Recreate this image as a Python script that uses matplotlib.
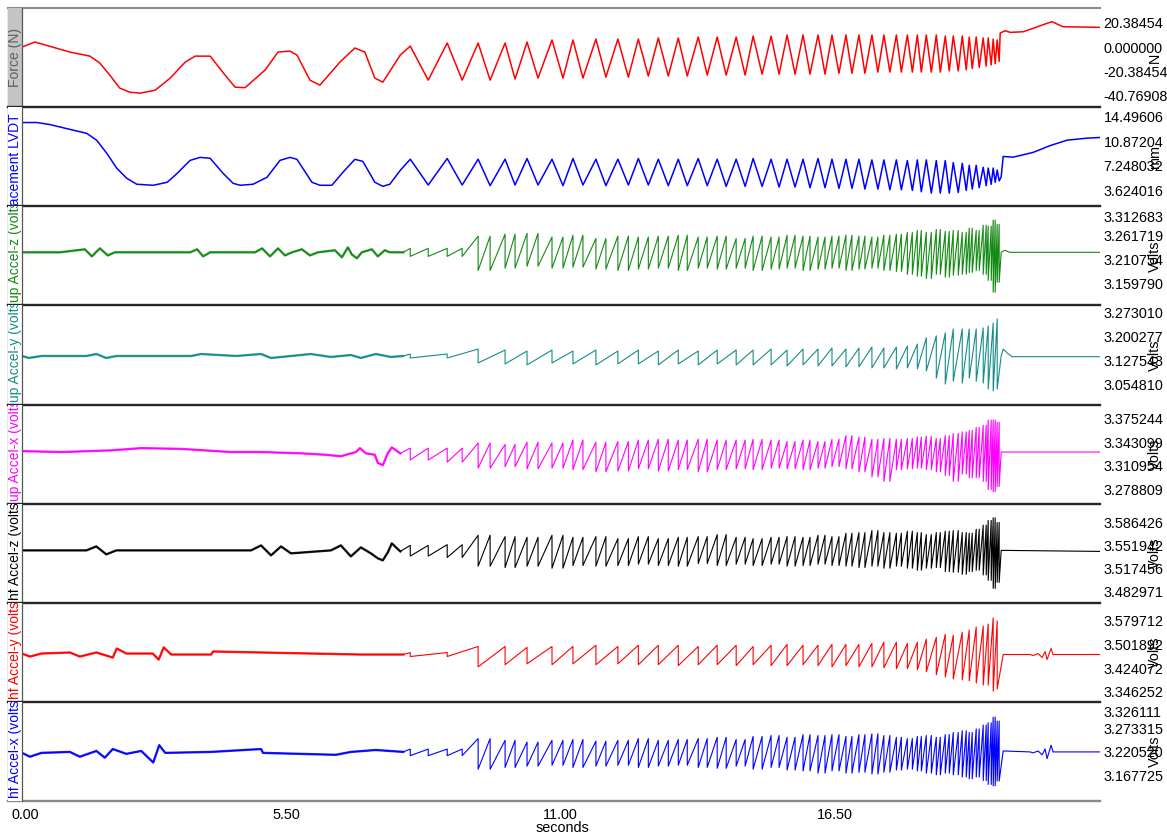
import numpy as np
import matplotlib.pyplot as plt
from matplotlib.patches import Rectangle

plt.rcParams['font.family'] = ['Liberation Sans', 'DejaVu Sans']

# cycle timing shared by all channels (seconds): force peak / trough times
t_peak = [7.99, 8.73, 9.35, 9.89, 10.33, 10.83, 11.25, 11.71, 12.15, 12.56,
          12.96, 13.36, 13.76, 14.14, 14.52, 14.86, 15.22, 15.54, 15.86, 16.16,
          16.44, 16.72, 16.98, 17.24, 17.48, 17.73, 17.95, 18.15, 18.33, 18.53,
          18.71, 18.87, 19.05, 19.19, 19.33, 19.47, 19.57, 19.67, 19.75]
t_trough = [8.35, 9.03, 9.59, 10.09, 10.55, 11.05, 11.45, 11.91, 12.36, 12.76,
            13.16, 13.54, 13.94, 14.32, 14.70, 15.04, 15.38, 15.70, 16.00, 16.30,
            16.58, 16.84, 17.10, 17.36, 17.60, 17.83, 18.05, 18.23, 18.43, 18.61,
            18.79, 18.97, 19.13, 19.25, 19.39, 19.53, 19.63, 19.71, 19.79]

# Force (N)
force_t0 = [0.21, 0.47, 1.17, 1.57, 1.77, 1.97, 2.17, 2.37, 2.58, 2.88,
            3.18, 3.48, 3.68, 3.98, 4.28, 4.48, 4.68, 5.08, 5.34, 5.58,
            5.72, 5.98, 6.18, 6.58, 6.88, 7.08, 7.28, 7.44, 7.79]
force_v0 = [0.0, 4.2, -4.2, -7.6, -13.4, -23.5, -34.4, -37.8, -38.6, -36.1,
            -26.0, -12.6, -7.6, -7.6, -23.5, -33.6, -34.0, -19.3, -4.2, -3.4,
            -6.7, -27.7, -31.9, -12.6, -0.8, -4.2, -26.0, -29.4, -6.7]
force_peak = [0.8, 3.4, 3.4, 3.4, 4.2, 5.9, 5.9, 6.7, 6.7, 6.7,
              7.6, 7.6, 8.4, 8.4, 8.4, 9.2, 9.2, 10.1, 10.1, 10.1,
              10.1, 10.1, 10.1, 10.1, 10.1, 10.1, 10.1, 10.1, 10.1, 10.1,
              9.2, 9.2, 9.2, 8.4, 8.4, 7.6, 7.6, 6.7, 5.9]
force_trough = [-27.7, -27.7, -27.7, -26.8, -26.0, -26.0, -26.0, -25.2, -25.2, -24.3,
                -24.3, -24.3, -23.5, -23.5, -23.5, -22.7, -22.7, -22.7, -22.7, -22.7,
                -22.0, -22.0, -22.0, -21.0, -21.0, -21.0, -21.0, -21.0, -21.0, -21.0,
                -20.0, -20.0, -19.0, -18.0, -17.0, -16.0, -15.0, -14.0, -12.0]
force_t1 = [19.81, 19.91, 20.01, 20.27, 20.47, 20.75, 20.85, 20.95, 21.07, 21.81]
force_v1 = [11.7, 13.7, 12.3, 12.8, 15.7, 19.9, 21.2, 19.3, 17.0, 16.5]

# Displacement LVDT (mm)
disp_t0 = [0.21, 0.51, 0.77, 1.11, 1.51, 1.71, 1.91, 2.11, 2.31, 2.51,
           2.84, 3.12, 3.32, 3.58, 3.78, 3.98, 4.24, 4.44, 4.58, 4.84,
           5.12, 5.38, 5.58, 5.72, 6.02, 6.18, 6.42, 6.64, 6.88, 7.04,
           7.28, 7.44, 7.58, 7.79]
disp_v0 = [13.6, 13.6, 13.3, 12.7, 12.0, 10.97, 9.06, 6.86, 5.39, 4.51,
           4.36, 4.8, 6.12, 8.03, 8.47, 8.33, 6.12, 4.65, 4.36, 4.51,
           5.54, 8.03, 8.47, 8.18, 4.8, 4.36, 4.36, 6.27, 8.18, 7.88,
           4.8, 4.21, 4.51, 6.56]
disp_peak = [8.2, 8.3, 8.2, 8.2, 8.3, 8.2, 8.3, 8.2, 8.2, 8.3,
             8.2, 8.2, 8.3, 8.2, 8.2, 8.3, 8.2, 8.2, 8.2, 8.3,
             8.2, 8.2, 8.2, 8.1, 8.1, 8.1, 8.0, 8.1, 8.1, 8.0,
             8.0, 7.7, 7.6, 7.3, 7.3, 7.0, 6.9, 6.9, 6.6]
disp_trough = [4.4, 4.4, 4.3, 4.4, 4.4, 4.3, 4.4, 4.3, 4.4, 4.4,
               4.3, 4.3, 4.3, 4.2, 4.2, 4.2, 4.1, 4.1, 4.0, 4.0,
               3.9, 3.9, 3.8, 3.8, 3.7, 3.7, 3.6, 3.4, 3.2, 3.2,
               3.2, 3.3, 3.6, 3.8, 4.0, 4.3, 4.5, 4.8, 5.0]
disp_t1 = [19.83, 19.87, 20.07, 20.47, 20.81, 21.15, 21.55, 21.81]
disp_v1 = [5.6, 8.6, 8.5, 9.2, 10.2, 11.0, 11.3, 11.4]

# accelerometers (volts): quiet start, per-cycle spike highs / lows, settled end
green_t0 = [0.21, 0.97, 1.47, 1.61, 1.77, 1.93, 2.07, 3.58, 3.72, 3.84, 3.98,
            4.88, 5.02, 5.18, 5.34, 5.48, 5.62, 5.82, 5.98, 6.14, 6.48, 6.62,
            6.74, 6.82, 6.92, 7.02, 7.22, 7.34, 7.48, 7.58, 7.85]
green_v0 = [3.2256, 3.2256, 3.232, 3.217, 3.234, 3.219, 3.2256, 3.2256, 3.232, 3.217, 3.2256,
            3.2256, 3.234, 3.217, 3.234, 3.219, 3.2256, 3.232, 3.219, 3.2256, 3.230, 3.215,
            3.236, 3.221, 3.213, 3.2256, 3.232, 3.217, 3.230, 3.2256, 3.2256]
green_hi = [3.234, 3.234, 3.260, 3.264, 3.266, 3.258, 3.262, 3.255, 3.260, 3.258,
            3.260, 3.262, 3.258, 3.260, 3.255, 3.260, 3.258, 3.262, 3.260, 3.258,
            3.260, 3.262, 3.260, 3.258, 3.262, 3.264, 3.268, 3.272, 3.268, 3.274,
            3.270, 3.272, 3.268, 3.277, 3.272, 3.283, 3.281, 3.294, 3.285]
green_lo = [3.217, 3.217, 3.187, 3.192, 3.196, 3.192, 3.194, 3.190, 3.187, 3.190,
            3.192, 3.187, 3.192, 3.190, 3.192, 3.187, 3.190, 3.192, 3.187, 3.190,
            3.192, 3.187, 3.190, 3.192, 3.187, 3.185, 3.179, 3.175, 3.170, 3.179,
            3.173, 3.177, 3.179, 3.183, 3.187, 3.179, 3.166, 3.141, 3.162]
green_t1 = [19.83, 19.90, 20.00, 21.81]
green_v1 = [3.2256, 3.2299, 3.2256, 3.2256]

teal_t0 = [0.21, 0.35, 0.6, 1.5, 1.7, 1.9, 2.1, 3.6, 3.8, 4.5,
           5.0, 5.2, 5.6, 6.0, 6.4, 6.8, 7.0, 7.3, 7.6, 7.85]
teal_v0 = [3.141, 3.135, 3.141, 3.141, 3.147, 3.135, 3.141, 3.141, 3.147, 3.141,
           3.147, 3.135, 3.141, 3.147, 3.138, 3.144, 3.135, 3.147, 3.138, 3.141]
teal_hi = [3.147, 3.147, 3.162, 3.159, 3.156, 3.159, 3.156, 3.159, 3.156, 3.159,
           3.156, 3.159, 3.156, 3.159, 3.159, 3.159, 3.162, 3.159, 3.162, 3.162,
           3.165, 3.162, 3.165, 3.168, 3.165, 3.168, 3.171, 3.177, 3.196, 3.202,
           3.211, 3.223, 3.223, 3.223, 3.223, 3.226, 3.232, 3.241, 3.253]
teal_lo = [3.135, 3.135, 3.120, 3.117, 3.114, 3.120, 3.117, 3.114, 3.117, 3.117,
           3.114, 3.117, 3.114, 3.117, 3.114, 3.114, 3.114, 3.111, 3.114, 3.111,
           3.111, 3.108, 3.108, 3.105, 3.105, 3.102, 3.105, 3.102, 3.096, 3.074,
           3.056, 3.065, 3.059, 3.074, 3.065, 3.059, 3.041, 3.035, 3.041]
teal_t1 = [19.83, 19.87, 19.95, 20.05, 21.81]
teal_v1 = [3.141, 3.162, 3.150, 3.139, 3.139]

magenta_t0 = [0.21, 1.0, 2.0, 2.6, 3.4, 4.4, 5.0, 5.8, 6.3, 6.6,
              6.9, 6.98, 7.1, 7.28, 7.34, 7.44, 7.54, 7.62, 7.79]
magenta_v0 = [3.331, 3.3297, 3.332, 3.335, 3.334, 3.3297, 3.3297, 3.328, 3.326, 3.324,
              3.3297, 3.335, 3.328, 3.326, 3.315, 3.312, 3.328, 3.336, 3.328]
magenta_hi = [3.335, 3.335, 3.342, 3.340, 3.343, 3.342, 3.346, 3.343, 3.344, 3.346,
              3.347, 3.346, 3.347, 3.346, 3.346, 3.347, 3.346, 3.344, 3.346, 3.344,
              3.347, 3.352, 3.350, 3.347, 3.348, 3.347, 3.348, 3.350, 3.351, 3.348,
              3.352, 3.355, 3.357, 3.359, 3.363, 3.366, 3.373, 3.373, 3.370]
magenta_lo = [3.319, 3.316, 3.308, 3.310, 3.307, 3.308, 3.306, 3.303, 3.304, 3.307,
              3.304, 3.306, 3.303, 3.306, 3.307, 3.306, 3.308, 3.307, 3.306, 3.308,
              3.310, 3.307, 3.303, 3.296, 3.290, 3.306, 3.307, 3.308, 3.306, 3.303,
              3.298, 3.290, 3.300, 3.295, 3.295, 3.290, 3.279, 3.276, 3.283]
magenta_t1 = [19.83, 21.81]
magenta_v1 = [3.3297, 3.3297]

black_t0 = [0.21, 1.5, 1.7, 1.9, 2.1, 4.8, 5.0, 5.2, 5.4, 5.6,
            6.4, 6.6, 6.8, 7.0, 7.2, 7.34, 7.44, 7.54, 7.62, 7.79]
black_v0 = [3.5445, 3.5445, 3.5504, 3.5386, 3.5445, 3.5445, 3.5519, 3.5371, 3.5504, 3.5401,
            3.5445, 3.5519, 3.5356, 3.549, 3.5401, 3.5327, 3.5297, 3.5415, 3.5549, 3.543]
black_hi = [3.552, 3.553, 3.567, 3.565, 3.564, 3.567, 3.564, 3.565, 3.562, 3.565,
            3.562, 3.564, 3.565, 3.568, 3.564, 3.562, 3.564, 3.565, 3.564, 3.567,
            3.565, 3.570, 3.571, 3.574, 3.571, 3.570, 3.573, 3.571, 3.568, 3.571,
            3.573, 3.574, 3.571, 3.570, 3.576, 3.582, 3.589, 3.593, 3.586]
black_lo = [3.536, 3.534, 3.521, 3.519, 3.521, 3.518, 3.522, 3.521, 3.522, 3.524,
            3.522, 3.521, 3.525, 3.522, 3.524, 3.522, 3.524, 3.521, 3.522, 3.524,
            3.522, 3.521, 3.519, 3.521, 3.518, 3.521, 3.518, 3.515, 3.518, 3.519,
            3.513, 3.512, 3.509, 3.513, 3.515, 3.508, 3.500, 3.488, 3.497]
black_t1 = [19.83, 19.90, 21.81]
black_v1 = [3.5445, 3.5445, 3.5430]

red_t0 = [0.21, 0.37, 0.6, 1.17, 1.37, 1.7, 2.03, 2.11, 2.3, 2.83,
          2.95, 3.05, 3.2, 4.0, 4.04, 5.0, 6.0, 7.0, 7.85]
red_v0 = [3.4718, 3.4618, 3.4718, 3.4752, 3.4618, 3.4752, 3.4585, 3.4885, 3.4718, 3.4718,
          3.4518, 3.4919, 3.4685, 3.4685, 3.4785, 3.4752, 3.4718, 3.4685, 3.4685]
red_hi = [3.475, 3.475, 3.495, 3.495, 3.492, 3.495, 3.495, 3.499, 3.495, 3.499,
          3.499, 3.499, 3.495, 3.499, 3.499, 3.495, 3.499, 3.502, 3.499, 3.499,
          3.502, 3.502, 3.502, 3.505, 3.509, 3.509, 3.505, 3.509, 3.519, 3.525,
          3.535, 3.532, 3.542, 3.549, 3.559, 3.562, 3.569, 3.589, 3.579]
red_lo = [3.462, 3.462, 3.428, 3.435, 3.438, 3.435, 3.438, 3.435, 3.438, 3.435,
          3.435, 3.432, 3.435, 3.435, 3.432, 3.435, 3.432, 3.432, 3.435, 3.432,
          3.428, 3.432, 3.428, 3.428, 3.425, 3.422, 3.422, 3.418, 3.412, 3.402,
          3.395, 3.388, 3.385, 3.382, 3.375, 3.368, 3.368, 3.348, 3.355]
red_t1 = [19.87, 20.41, 20.47, 20.57, 20.65, 20.71, 20.75, 20.83, 20.87, 21.81]
red_v1 = [3.4685, 3.4685, 3.4652, 3.4718, 3.4585, 3.4785, 3.4518, 3.4885, 3.4685, 3.4685]

blue_t0 = [0.21, 0.37, 0.6, 1.17, 1.37, 1.7, 1.87, 2.03, 2.3, 2.6,
           2.84, 2.96, 3.08, 4.0, 5.0, 5.04, 6.5, 6.8, 7.3, 7.85]
blue_v0 = [3.2183, 3.2095, 3.2183, 3.2205, 3.2095, 3.2227, 3.2073, 3.2271, 3.2161, 3.2227,
           3.1963, 3.2359, 3.2183, 3.2205, 3.2271, 3.2183, 3.2139, 3.2205, 3.2249, 3.2205]
blue_hi = [3.227, 3.227, 3.251, 3.247, 3.243, 3.247, 3.249, 3.245, 3.247, 3.251,
           3.247, 3.249, 3.251, 3.254, 3.249, 3.256, 3.258, 3.254, 3.260, 3.258,
           3.260, 3.256, 3.260, 3.262, 3.258, 3.254, 3.251, 3.256, 3.258, 3.254,
           3.260, 3.265, 3.269, 3.265, 3.273, 3.282, 3.287, 3.300, 3.291]
blue_lo = [3.212, 3.212, 3.181, 3.185, 3.188, 3.190, 3.185, 3.188, 3.190, 3.185,
           3.188, 3.190, 3.185, 3.183, 3.188, 3.181, 3.185, 3.179, 3.177, 3.172,
           3.177, 3.172, 3.174, 3.170, 3.174, 3.179, 3.181, 3.177, 3.172, 3.168,
           3.172, 3.168, 3.163, 3.159, 3.163, 3.155, 3.146, 3.143, 3.154]
blue_t1 = [19.87, 20.41, 20.47, 20.57, 20.65, 20.71, 20.75, 20.83, 20.87, 21.81]
blue_v1 = [3.2227, 3.2205, 3.2183, 3.2227, 3.2139, 3.2271, 3.2051, 3.2359, 3.2205, 3.2205]

# axis ticks
x_ticks = [0.0, 5.5, 11.0, 16.5]
x_labels = ['0.00', '5.50', '11.00', '16.50']
y_ticks = [
    ([20.38454, 0.0, -20.38454, -40.76908], ['20.38454', '0.000000', '-20.38454', '-40.76908']),
    ([14.496064, 10.872048, 7.248032, 3.624016], ['14.49606', '10.87204', '7.248032', '3.624016']),
    ([3.312683, 3.261719, 3.210754, 3.159790], ['3.312683', '3.261719', '3.210754', '3.159790']),
    ([3.273010, 3.200277, 3.127543, 3.054810], ['3.273010', '3.200277', '3.127543', '3.054810']),
    ([3.375244, 3.343099, 3.310954, 3.278809], ['3.375244', '3.343099', '3.310954', '3.278809']),
    ([3.586426, 3.551942, 3.517456, 3.482971], ['3.586426', '3.551942', '3.517456', '3.482971']),
    ([3.579712, 3.501892, 3.424072, 3.346252], ['3.579712', '3.501892', '3.424072', '3.346252']),
    ([3.326111, 3.273315, 3.220520, 3.167725], ['3.326111', '3.273315', '3.220520', '3.167725']),
]
y_limits = [(-50.3, 32.7), (1.27, 15.87), (3.1131, 3.3233), (2.9942, 3.2942),
            (3.2600, 3.3940), (3.4667, 3.6140), (3.3128, 3.6388), (3.1083, 3.3349)]
names = ['Force (N)', 'Displacement LVDT', 'up Accel-z (volts)', 'up Accel-y (volts)',
         'up Accel-x (volts)', 'hf Accel-z (volts)', 'hf Accel-y (volts)', 'hf Accel-x (volts)']
units = ['N', 'mm', 'Volts', 'Volts', 'Volts', 'Volts', 'Volts', 'Volts']
colors = ['#ff0000', '#0000ff', '#138a13', '#148c8c', '#ff00ff', '#000000', '#ff0000', '#0000ff']


def interleave(*cols):
    return np.column_stack(cols).ravel()


def smooth_series(t0, v0, pk, tr, t1, v1):
    x = np.concatenate([t0, interleave(t_peak, t_trough), t1])
    y = np.concatenate([v0, interleave(pk, tr), v1])
    return x, y


def once_per_cycle(t0, v0, hi, lo, t1, v1):
    # sharp drop at each force peak, ramp back up during the cycle
    x = np.concatenate([t0, np.repeat(t_peak, 2), t1])
    y = np.concatenate([v0, interleave(hi, lo), v1])
    return x, y


def twice_per_cycle(t0, v0, hi, lo, t1, v1):
    # a drop at every reversal (peak and trough)
    t_ext = interleave(t_peak, t_trough)
    x = np.concatenate([t0, np.repeat(t_ext, 2), t1])
    y = np.concatenate([v0, interleave(np.repeat(hi, 2), np.repeat(lo, 2)), v1])
    return x, y


series = [
    smooth_series(force_t0, force_v0, force_peak, force_trough, force_t1, force_v1),
    smooth_series(disp_t0, disp_v0, disp_peak, disp_trough, disp_t1, disp_v1),
    twice_per_cycle(green_t0, green_v0, green_hi, green_lo, green_t1, green_v1),
    once_per_cycle(teal_t0, teal_v0, teal_hi, teal_lo, teal_t1, teal_v1),
    twice_per_cycle(magenta_t0, magenta_v0, magenta_hi, magenta_lo, magenta_t1, magenta_v1),
    twice_per_cycle(black_t0, black_v0, black_hi, black_lo, black_t1, black_v1),
    once_per_cycle(red_t0, red_v0, red_hi, red_lo, red_t1, red_v1),
    twice_per_cycle(blue_t0, blue_v0, blue_hi, blue_lo, blue_t1, blue_v1),
]
quiet = [None, None, (green_t0, green_v0), (teal_t0, teal_v0), (magenta_t0, magenta_v0),
         (black_t0, black_v0), (red_t0, red_v0), (blue_t0, blue_v0)]

W, H = 1167, 835
fig = plt.figure(figsize=(W / 100, H / 100), dpi=100)
left, right, top, bottom = 8, 1100, 8, 801
ph = (bottom - top) / 8
aw = right - left
strip = 14 / aw

for i in range(8):
    ax = fig.add_axes([left / W, 1 - (top + (i + 1) * ph) / H, aw / W, ph / H])
    col = colors[i]
    x, y = series[i]
    ax.plot(x, y, color=col, lw=1.1 if i < 2 else 0.8)
    if quiet[i] is not None:
        ax.plot(quiet[i][0], quiet[i][1], color=col, lw=1.7, alpha=0.85)
    ax.set_xlim(-0.07, 21.81)
    ax.set_ylim(*y_limits[i])

    ticks, labels = y_ticks[i]
    ax.yaxis.tick_right()
    ax.set_yticks(ticks)
    ax.set_yticklabels(labels)
    ax.tick_params(axis='y', length=0, pad=2.5, labelsize=10.4, colors='black')
    lo_, hi_ = y_limits[i]
    if (hi_ - ticks[0]) / (hi_ - lo_) * ph < 6:
        ax.get_yticklabels()[0].set_va('top')

    if i == 7:
        ax.set_xticks(x_ticks)
        ax.set_xticklabels(x_labels)
        ax.tick_params(axis='x', length=0, pad=5, labelsize=10.4)
        ax.get_xticklabels()[0].set_ha('left')
        ax.set_xlabel('seconds', fontsize=10.4)
        ax.xaxis.set_label_coords((562 - left) / aw, -20 / ph)
    else:
        ax.set_xticks([])

    for s in ax.spines.values():
        s.set_visible(False)
    ax.spines['top'].set_visible(True)
    if i == 0:
        ax.spines['top'].set_color('#8a8a8a')
        ax.spines['top'].set_linewidth(1.5)
    else:
        ax.spines['top'].set_color('#262626')
        ax.spines['top'].set_linewidth(1.7)
    if i == 7:
        ax.spines['bottom'].set_visible(True)
        ax.spines['bottom'].set_color('#8a8a8a')
        ax.spines['bottom'].set_linewidth(1.7)
    ax.spines['left'].set_visible(True)
    ax.spines['left'].set_color('#8a8a8a')
    ax.spines['left'].set_linewidth(1.0)

    # name strip on the left
    ax.add_patch(Rectangle((0, 0), strip, 1, transform=ax.transAxes,
                           facecolor='#c4c4c4' if i == 0 else 'white',
                           edgecolor='none', zorder=5, clip_on=False))
    ax.plot([strip, strip], [0, 1], transform=ax.transAxes, color='#555555',
            lw=0.9, zorder=6, clip_on=False)
    if i == 0:
        ty, va, tc = 0.5, 'center', '#5e5e5e'
    elif i == 1:
        ty, va, tc = 1 - 6 / ph, 'top', col
    else:
        ty, va, tc = 3 / ph, 'bottom', col
    ax.text(strip / 2, ty, names[i], transform=ax.transAxes, rotation=90,
            ha='center', va=va, color=tc, fontsize=10, zorder=7, clip_on=True)

    ax.text((1155 - left) / aw, 0.5, units[i], transform=ax.transAxes,
            rotation=90, ha='center', va='center', fontsize=10.4, clip_on=False)

fig.savefig('out.png', dpi=100)
